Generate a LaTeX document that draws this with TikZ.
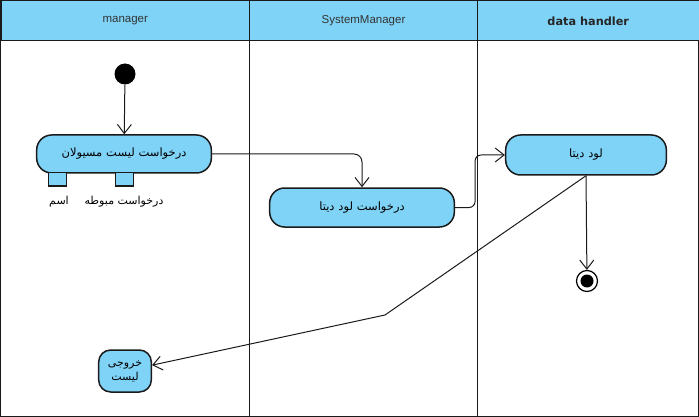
\documentclass[tikz,border=0pt]{standalone}
\usepackage{fontspec}
\setmainfont{Liberation Sans}
\newfontfamily\farsi[Script=Arabic]{DejaVu Sans}
\newfontfamily\headfont{DejaVu Sans}
\TeXXeTstate=1
\usetikzlibrary{arrows.meta, positioning, calc}
\definecolor{laneblue}{HTML}{7FD3F7}
\definecolor{edgegray}{HTML}{1A1A1A}
\tikzset{
    lane_head/.style={rectangle, draw=edgegray, line width=1pt, fill=laneblue, minimum width=#1, minimum height=40, anchor=north west, text=black!80, font=\fontsize{11.5}{13}\selectfont},
    action/.style={rectangle, draw=edgegray, line width=1.5pt, rounded corners=15, fill=laneblue, text width=#1, align=center, font=\farsi\fontsize{11.5}{14}\selectfont},
    pin/.style={rectangle, draw=edgegray, line width=1pt, fill=laneblue, minimum width=18, minimum height=13},
    pin_label/.style={font=\farsi\fontsize{11}{13}\selectfont, inner sep=1},
    start_dot/.style={circle, fill=black, minimum size=21, inner sep=0},
    stop_dot/.style={circle, draw=black, line width=1.2pt, fill=white, minimum size=21, inner sep=0, path picture={\fill[black] (path picture bounding box.center) circle (6.5);}},
    arrow/.style={-{Straight Barb[length=9pt, width=14pt]}, edgegray, line width=1pt}
}

\begin{document}
\begin{tikzpicture}[x=1pt, y=-1pt]
    \useasboundingbox (0,0) rectangle (699,417);
    % swimlanes
    \draw[edgegray, line width=1pt] (0.5,0.5) rectangle (249,416.5);
    \draw[edgegray, line width=1pt] (249,0.5) rectangle (477,416.5);
    \draw[edgegray, line width=1pt] (477,0.5) rectangle (698.5,416.5);
    \node (hd_manager) [lane_head=248.5] at (0.5,0.5) {manager};
    \node (hd_system) [lane_head=228] at (249,0.5) {SystemManager};
    \node (hd_data) [lane_head=221.5, font=\headfont\bfseries\fontsize{11.3}{13}\selectfont, text=black!85] at (477,0.5) {data handler};

    % actions
    \node (start) [start_dot] at (125,74) {};
    \node (req_list) [action=168, minimum height=38] at (124,154) {\beginR درخواست لیست مسیولان\endR};
    \node (pin_name) [pin] at (57,179.5) {};
    \node (pin_req) [pin] at (124.5,179.5) {};
    \node (lbl_name) [pin_label] at (59,202) {\beginR اسم\endR};
    \node (lbl_req) [pin_label] at (124,202) {\beginR درخواست مبوطه\endR};
    \node (req_load) [action=178, minimum height=39] at (362,207.5) {\beginR درخواست لود  دیتا\endR};
    \node (load_data) [action=154, minimum height=40] at (586,155) {\beginR لود دیتا\endR};
    \node (final) [stop_dot] at (587,281) {};
    \node (out_list) [action=46, minimum height=42, rounded corners=12, font=\farsi\fontsize{11}{14}\selectfont] at (125,371) {\beginR خروجی\endR\\\beginR لیست\endR};
    \coordinate (bend) at (385,315);

    % flows
    \draw[arrow] (start) -- (req_list);
    \draw[arrow, rounded corners=8] (req_list.east) -| (req_load.north);
    \draw[arrow, rounded corners=6] (req_load.east) -- ++(20,0) |- (load_data.west);
    \draw[arrow] (load_data.south) -- (final);
    \draw[arrow] (load_data.south) -- (bend) -- (out_list);
\end{tikzpicture}
\end{document}
